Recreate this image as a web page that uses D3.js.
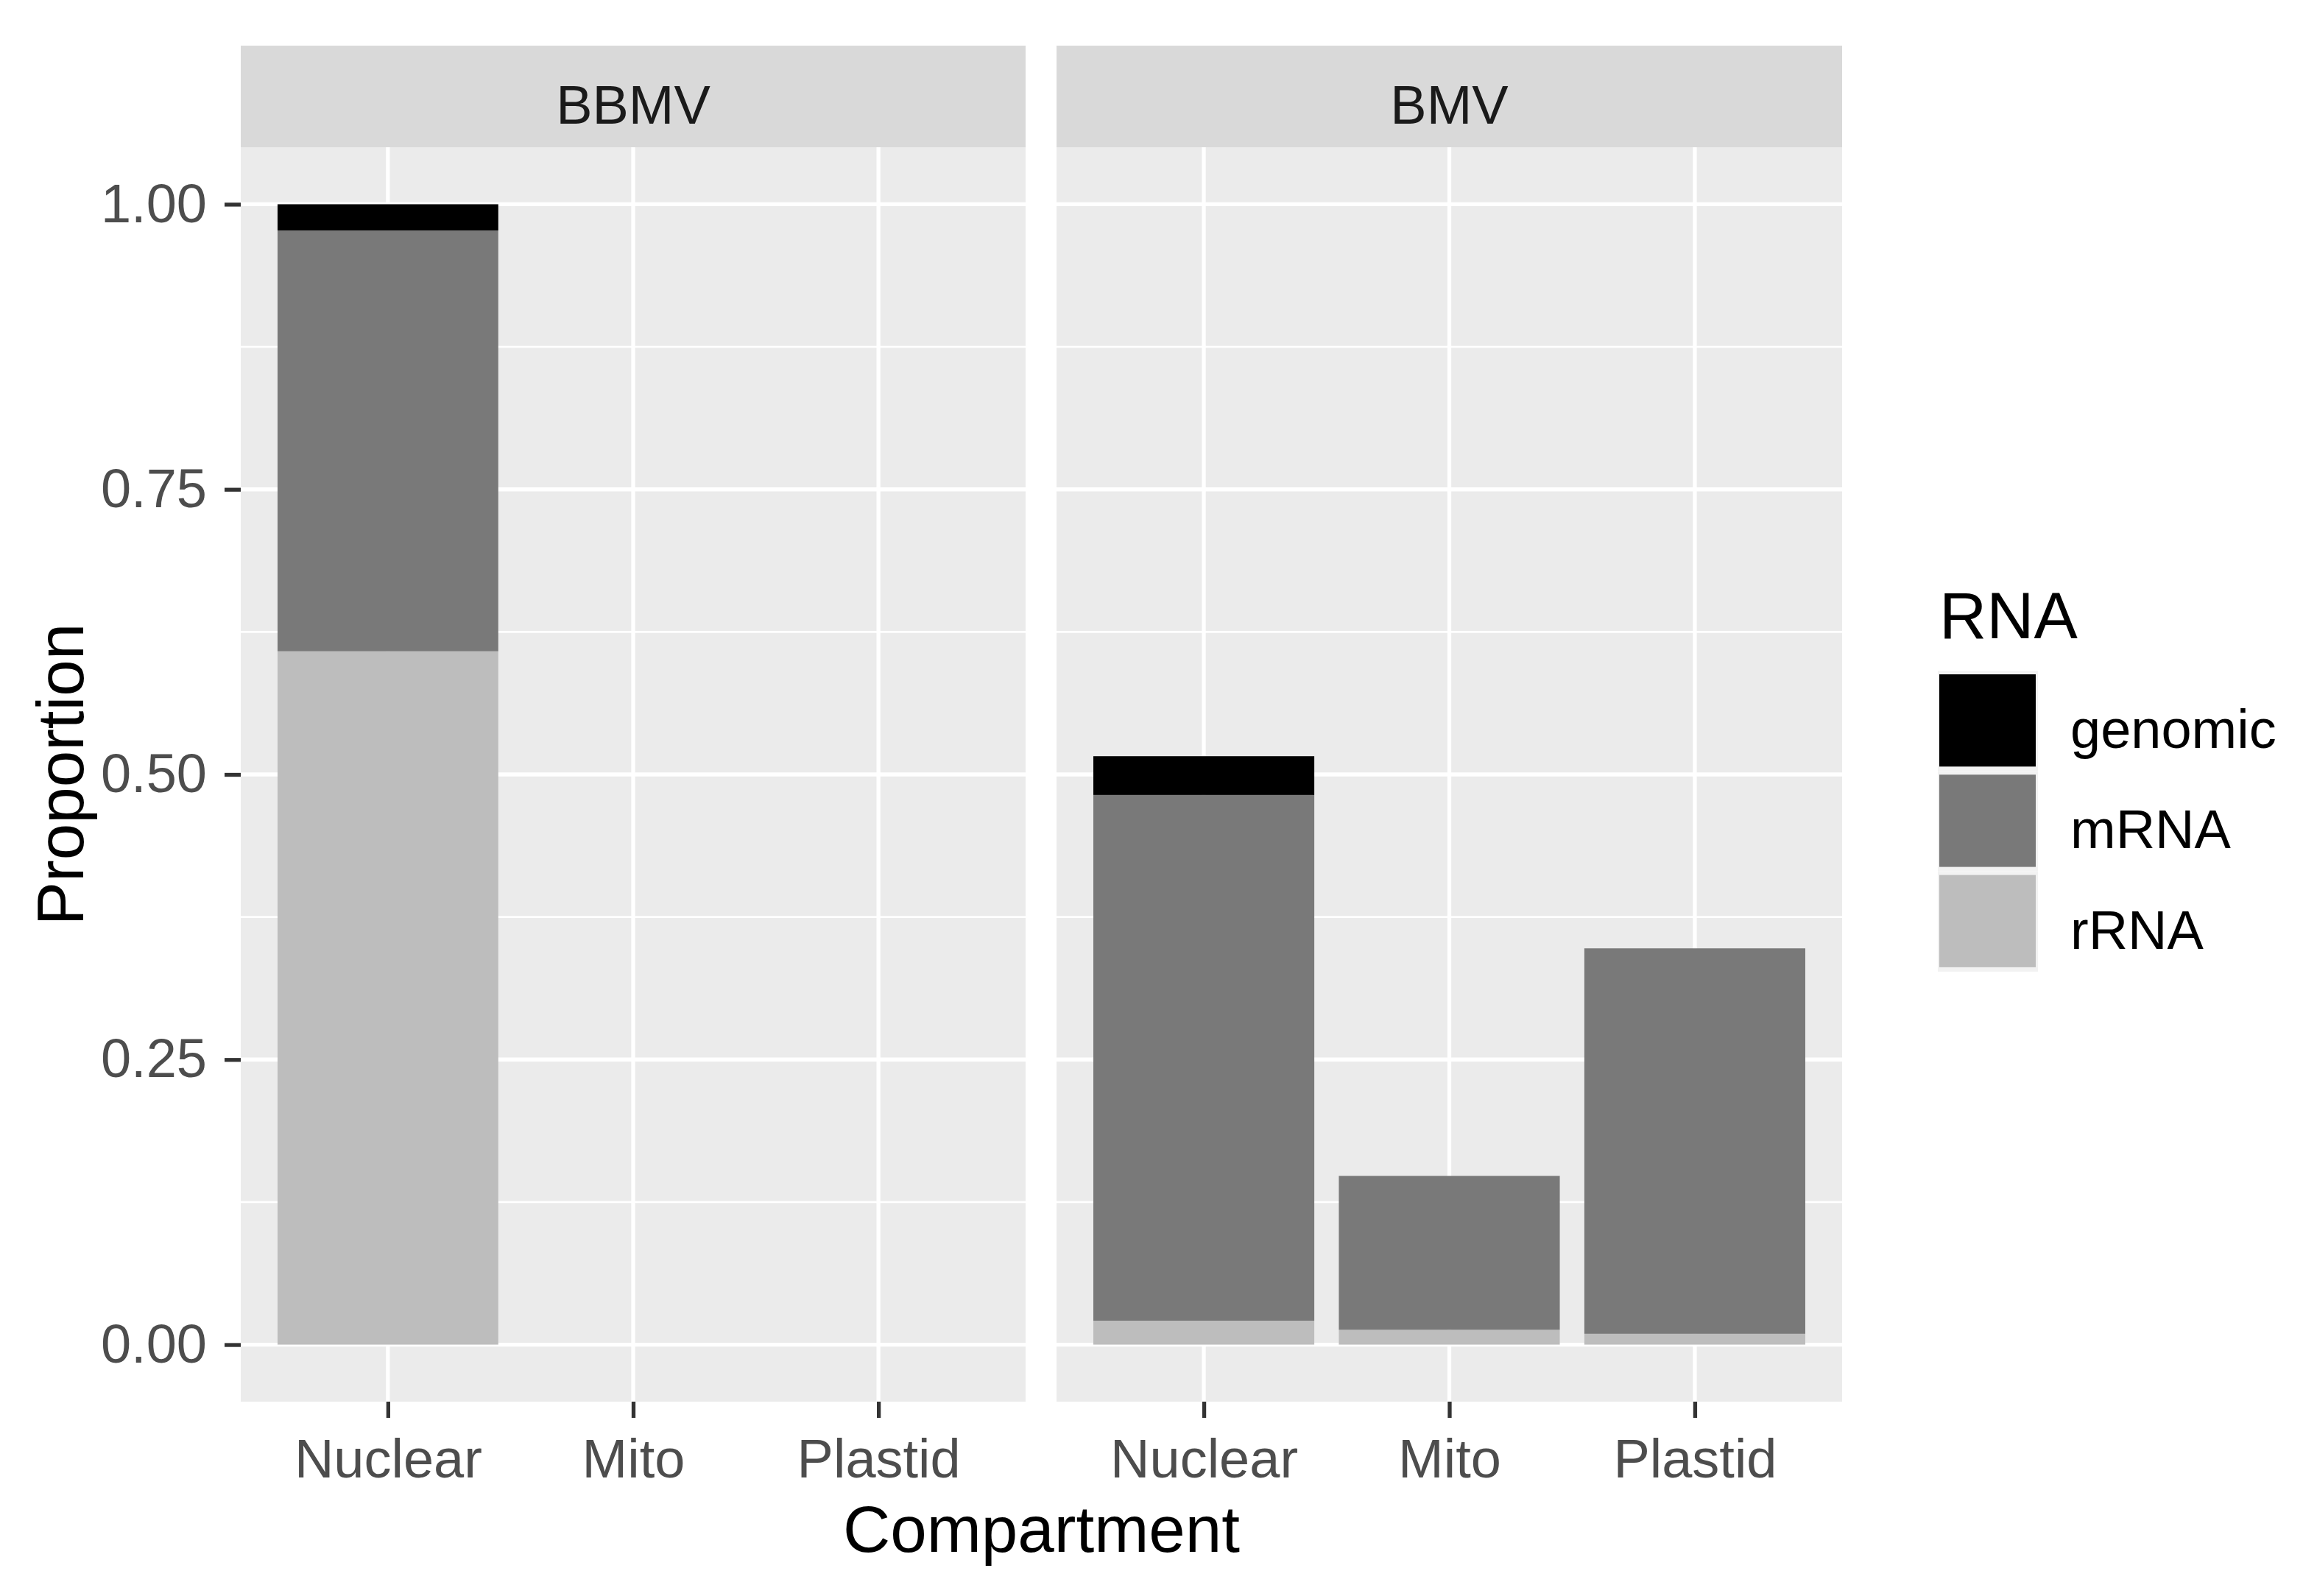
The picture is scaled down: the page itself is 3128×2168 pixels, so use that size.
<!DOCTYPE html>
<html>
<head>
<meta charset="utf-8">
<script src="https://cdn.jsdelivr.net/npm/d3@7"></script>
<style>
  html, body { margin: 0; padding: 0; background: #ffffff; }
  svg { display: block; }
  text { font-family: "Liberation Sans", Arial, sans-serif; }
</style>
</head>
<body>
<svg id="chart" width="3128" height="2168"></svg>
<script>
// ---------------- data ----------------
const facets = ["BBMV", "BMV"];
const compartments = ["Nuclear", "Mito", "Plastid"];
const rnaTypes = ["genomic", "mRNA", "rRNA"];          // legend order (top of stack first)
const rnaColors = ["#000000", "#797979", "#bdbdbd"];
// proportions per facet, per compartment (Nuclear, Mito, Plastid)
const bbmvGenomic = [0.023, 0, 0];
const bbmvMRNA    = [0.369, 0, 0];
const bbmvRRNA    = [0.608, 0, 0];
const bmvGenomic  = [0.034, 0, 0];
const bmvMRNA     = [0.461, 0.135, 0.338];
const bmvRRNA     = [0.021, 0.013, 0.0095];
const yTicks = [0, 0.25, 0.5, 0.75, 1.0];
const yTickLabels = ["0.00", "0.25", "0.50", "0.75", "1.00"];
const yMinor = [0.125, 0.375, 0.625, 0.875];

const facetData = {
  BBMV: compartments.map((c, i) => ({ comp: c, genomic: bbmvGenomic[i], mRNA: bbmvMRNA[i], rRNA: bbmvRRNA[i] })),
  BMV:  compartments.map((c, i) => ({ comp: c, genomic: bmvGenomic[i],  mRNA: bmvMRNA[i],  rRNA: bmvRRNA[i] }))
};

// ---------------- layout ----------------
const svg = d3.select("#chart");
const panelTop = 200, panelBottom = 1904;
const stripTop = 62;
const panelX = { BBMV: [327, 1393], BMV: [1435, 2502] };
const small = 74, big = 89;
const color = d3.scaleOrdinal().domain(rnaTypes).range(rnaColors);

const y = d3.scaleLinear().domain([-0.05, 1.05]).range([panelBottom, panelTop]);

const stack = d3.stack().keys(["rRNA", "mRNA", "genomic"]);

facets.forEach((f, fi) => {
  const [x0, x1] = panelX[f];
  const x = d3.scalePoint().domain(compartments).range([x0, x1]).padding(0.6);
  const bw = x.step() * 0.9;
  const g = svg.append("g");

  // strip
  g.append("rect").attr("x", x0).attr("y", stripTop).attr("width", x1 - x0).attr("height", panelTop - stripTop)
    .attr("fill", "#d9d9d9");
  g.append("text").attr("x", (x0 + x1) / 2).attr("y", 168)
    .attr("text-anchor", "middle").attr("font-size", small).attr("fill", "#1a1a1a").text(f);

  // panel background
  g.append("rect").attr("x", x0).attr("y", panelTop).attr("width", x1 - x0).attr("height", panelBottom - panelTop)
    .attr("fill", "#ebebeb");

  // grid
  g.selectAll(".minor").data(yMinor).join("line")
    .attr("x1", x0).attr("x2", x1).attr("y1", d => y(d)).attr("y2", d => y(d))
    .attr("stroke", "#ffffff").attr("stroke-width", 2.7);
  g.selectAll(".major").data(yTicks).join("line")
    .attr("x1", x0).attr("x2", x1).attr("y1", d => y(d)).attr("y2", d => y(d))
    .attr("stroke", "#ffffff").attr("stroke-width", 5.3);
  g.selectAll(".vgrid").data(compartments).join("line")
    .attr("x1", d => x(d)).attr("x2", d => x(d)).attr("y1", panelTop).attr("y2", panelBottom)
    .attr("stroke", "#ffffff").attr("stroke-width", 5.3);

  // bars
  const series = stack(facetData[f]);
  series.forEach(s => {
    g.append("g").selectAll("rect").data(s).join("rect")
      .attr("x", d => x(d.data.comp) - bw / 2)
      .attr("width", bw)
      .attr("y", d => y(d[1]))
      .attr("height", d => Math.max(0, y(d[0]) - y(d[1])))
      .attr("fill", color(s.key));
  });

  // x axis
  const xAxis = d3.axisBottom(x).tickSize(22).tickPadding(28);
  const ax = g.append("g").attr("transform", `translate(0,${panelBottom})`).call(xAxis);
  ax.select(".domain").remove();
  ax.selectAll(".tick line").attr("stroke", "#333333").attr("stroke-width", 5.3);
  ax.selectAll(".tick text").attr("font-size", small).attr("fill", "#4d4d4d")
    .attr("font-family", "Liberation Sans, Arial, sans-serif");

  // y axis (left panel only)
  if (fi === 0) {
    const yAxis = d3.axisLeft(y).tickValues(yTicks).tickFormat((d, i) => yTickLabels[i]).tickSize(22).tickPadding(24);
    const ay = g.append("g").attr("transform", `translate(${x0},0)`).call(yAxis);
    ay.select(".domain").remove();
    ay.selectAll(".tick line").attr("stroke", "#333333").attr("stroke-width", 5.3);
    ay.selectAll(".tick text").attr("font-size", small).attr("fill", "#4d4d4d")
      .attr("font-family", "Liberation Sans, Arial, sans-serif");
  }
});

// axis titles
svg.append("text").attr("x", (327 + 2502) / 2).attr("y", 2108).attr("text-anchor", "middle")
  .attr("font-size", big).attr("fill", "#000000").text("Compartment");
svg.append("text").attr("transform", `translate(113,${(panelTop + panelBottom) / 2}) rotate(-90)`)
  .attr("text-anchor", "middle").attr("font-size", big).attr("fill", "#000000").text("Proportion");

// legend
const lg = svg.append("g");
lg.append("text").attr("x", 2634).attr("y", 867).attr("font-size", big).attr("fill", "#000000").text("RNA");
const keyTop = 911, keyStep = 136.3;
rnaTypes.forEach((k, i) => {
  const ty = keyTop + i * keyStep;
  lg.append("rect").attr("x", 2632).attr("y", ty).attr("width", 136).attr("height", keyStep)
    .attr("fill", "#f2f2f2");
  lg.append("rect").attr("x", 2634).attr("y", ty + 5).attr("width", 131).attr("height", keyStep - 11)
    .attr("fill", color(k));
  lg.append("text").attr("x", 2812).attr("y", ty + keyStep / 2 + 37).attr("font-size", small)
    .attr("fill", "#000000").text(k);
});
</script>
</body>
</html>
